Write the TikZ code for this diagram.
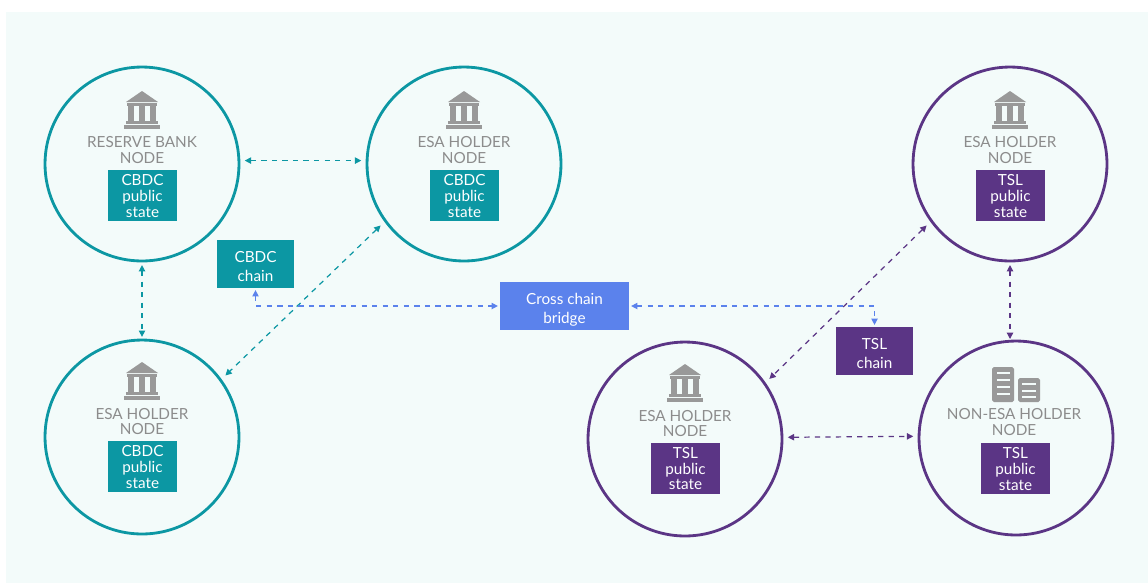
\documentclass[tikz,border=0pt]{standalone}
\usepackage{fontspec}
\setmainfont{Lato}
\usetikzlibrary{arrows.meta}

\definecolor{panelbg}{HTML}{F3FBFA}
\definecolor{cbdcteal}{HTML}{0C97A3}
\definecolor{tslpurple}{HTML}{5B3585}
\definecolor{bridgeblue}{HTML}{5B82EC}
\definecolor{icongray}{HTML}{999999}
\definecolor{labelgray}{HTML}{8C8C8C}

\tikzset{
	bankicon/.pic={
		\fill[icongray] (-16,11) -- (0,0) -- (16,11) -- cycle;
		\fill[icongray] (-15,12) rectangle (15,15);
		\fill[icongray] (-14,15) rectangle (-8,30);
		\fill[icongray] (-3,15) rectangle (3,30);
		\fill[icongray] (8,15) rectangle (14,30);
		\fill[icongray] (-16,30) rectangle (16,32.5);
		\fill[icongray] (-18,34) rectangle (18,37.5);
	},
	servericon/.pic={
		\fill[icongray,rounded corners=1pt] (-24,0) rectangle (-2,35);
		\fill[icongray,rounded corners=1pt] (2,11) rectangle (24,35);
		\foreach \y in {5,12,18.5,25.5}
			\fill[panelbg] (-19,\y) rectangle (-6,\y+2);
		\foreach \y in {16,22.5,29}
			\fill[panelbg] (6,\y) rectangle (20,\y+2);
	}
}

\begin{document}
\begin{tikzpicture}[x=0.02cm,y=-0.02cm,
	tealring/.style={shape=circle,draw=cbdcteal,line width=1.6pt,minimum size=3.88cm,inner sep=0pt},
	purplering/.style={shape=circle,draw=tslpurple,line width=1.6pt,minimum size=3.88cm,inner sep=0pt},
	nodelabel/.style={text=labelgray,align=center,font=\fontsize{8.7}{9.1}\selectfont,inner sep=0pt},
	statebox/.style={text=white,align=center,font=\fontsize{8.7}{8.9}\selectfont,minimum width=1.38cm,minimum height=1.02cm,inner sep=0pt},
	chainbox/.style={text=white,align=center,font=\fontsize{8.7}{10.8}\selectfont,minimum width=1.54cm,minimum height=0.96cm,inner sep=0pt},
	teallink/.style={draw=cbdcteal,line width=0.7pt,dashed,{Triangle[length=3.6pt,width=3.6pt]}-{Triangle[length=3.6pt,width=3.6pt]}},
	purplelink/.style={draw=tslpurple,line width=0.7pt,dashed,{Triangle[length=3.6pt,width=3.6pt]}-{Triangle[length=3.6pt,width=3.6pt]}},
	bluelink/.style={draw=bridgeblue,line width=0.7pt,dashed,{Triangle[length=3.6pt,width=3.6pt]}-{Triangle[length=3.6pt,width=3.6pt]}}]

	\useasboundingbox (0,0) rectangle (1148,583);
	\fill[panelbg] (6,12) rectangle (1148,583);

	\node[tealring] (reserve) at (142,164) {};
	\node[tealring] (esaone) at (464,164) {};
	\node[tealring] (esatwo) at (142,437) {};
	\node[purplering] (esathree) at (1010,164) {};
	\node[purplering] (esafour) at (685,439) {};
	\node[purplering] (nonesa) at (1016,438) {};
	\coordinate (nonesatop) at (1010,339);

	\pic at (142,91) {bankicon};
	\pic at (464,91) {bankicon};
	\pic at (142,362) {bankicon};
	\pic at (1010,91) {bankicon};
	\pic at (685,364) {bankicon};
	\pic at (1016,367) {servericon};

	\node[nodelabel] (reservetext) at (142,150) {RESERVE BANK\\NODE};
	\node[nodelabel] (esaonetext) at (464,150.5) {ESA HOLDER\\NODE};
	\node[nodelabel] (esatwotext) at (142,421.5) {ESA HOLDER\\NODE};
	\node[nodelabel] (esathreetext) at (1010,150.5) {ESA HOLDER\\NODE};
	\node[nodelabel] (esafourtext) at (685,423.5) {ESA HOLDER\\NODE};
	\node[nodelabel] (nonesatext) at (1014,422) {NON-ESA HOLDER\\NODE};

	\node[statebox,fill=cbdcteal] (reservestate) at (142.5,195.5) {\rule{0pt}{7pt}CBDC\\public\\state};
	\node[statebox,fill=cbdcteal] (esaonestate) at (464.5,195.5) {\rule{0pt}{7pt}CBDC\\public\\state};
	\node[statebox,fill=cbdcteal] (esatwostate) at (142.5,466.5) {\rule{0pt}{7pt}CBDC\\public\\state};
	\node[statebox,fill=tslpurple] (esathreestate) at (1010.5,195.5) {\rule{0pt}{7pt}TSL\\public\\state};
	\node[statebox,fill=tslpurple] (esafourstate) at (685.5,468) {\rule{0pt}{7pt}TSL\\public\\state};
	\node[statebox,fill=tslpurple] (nonesastate) at (1015.5,468.5) {\rule{0pt}{7pt}TSL\\public\\state};

	\node[chainbox,fill=cbdcteal] (cbdcchain) at (255.5,264) {\rule{0pt}{9pt}CBDC\\chain};
	\node[chainbox,fill=tslpurple] (tslchain) at (874.5,351) {\rule{0pt}{9pt}TSL\\chain};
	\node[chainbox,fill=bridgeblue,minimum width=2.58cm] (bridge) at (564.5,306) {\rule{0pt}{11pt}Cross chain\\bridge};

	\draw[teallink,shorten <=2.5pt,shorten >=2.5pt] (reserve.2) -- (esaone.178);
	\draw[teallink,shorten <=1.5pt,shorten >=1pt] (reserve.south) -- (esatwo.north);
	\draw[teallink,shorten <=3pt,shorten >=3pt] (esaone.216) -- (esatwo.36);
	\draw[purplelink,shorten <=3pt,shorten >=3pt] (esathree.216) -- (esafour.35);
	\draw[purplelink,shorten <=1.5pt,shorten >=0pt] (esathree.south) -- (nonesatop);
	\draw[purplelink,shorten <=2.5pt,shorten >=2.5pt] (esafour.1) -- (nonesa.179);
	\draw[bluelink,shorten <=1pt,shorten >=1pt] (cbdcchain.south) |- (bridge.west);
	\draw[bluelink,shorten <=1pt,shorten >=1pt] (bridge.east) -| (tslchain.north);
\end{tikzpicture}
\end{document}
